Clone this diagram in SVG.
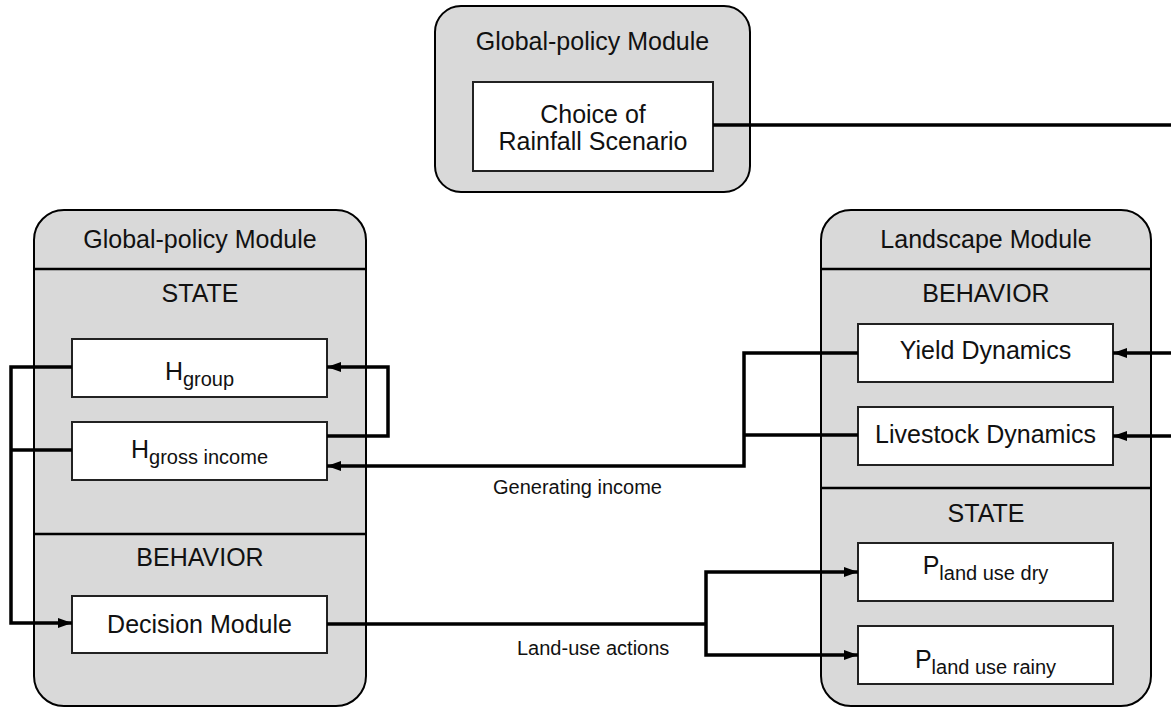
<svg xmlns="http://www.w3.org/2000/svg" width="1171" height="708" viewBox="0 0 1171 708">
<defs>
<style>
.module{fill:#d9d9d9;stroke:#000;stroke-width:2}
.div{stroke:#000;stroke-width:2.5}
.box{fill:#fff;stroke:#222;stroke-width:2}
.t{font-family:"Liberation Sans",Arial,sans-serif;font-size:25px;fill:#111;text-anchor:middle}
.sub{font-size:20px}
.lbl{font-family:"Liberation Sans",Arial,sans-serif;font-size:20px;fill:#111}
.c{fill:none;stroke:#000;stroke-width:3.5}
</style>
<marker id="ah" viewBox="0 0 14 10" refX="14" refY="5" markerWidth="14" markerHeight="10" markerUnits="userSpaceOnUse" orient="auto">
<path d="M0,0 L14,5 L0,10 z" fill="#000"/>
</marker>
</defs>
<rect width="1171" height="708" fill="#fff"/>

<g id="top-module">
<rect class="module" x="435" y="6" width="315" height="186" rx="26" ry="26"/>
<text class="t" x="592.5" y="50">Global-policy Module</text>
</g>
<g id="rainfall">
<rect class="box" x="473" y="82" width="240" height="89"/>
<text class="t" x="593" y="123">Choice of</text>
<text class="t" x="593" y="150">Rainfall Scenario</text>
</g>

<g id="left-module">
<rect class="module" x="34" y="210" width="332" height="496" rx="30" ry="30"/>
<line class="div" x1="34" y1="269" x2="366" y2="269"/>
<line class="div" x1="34" y1="534" x2="366" y2="534"/>
<text class="t" x="200" y="248">Global-policy Module</text>
<text class="t" x="200" y="302">STATE</text>
<text class="t" x="200" y="566">BEHAVIOR</text>
</g>
<g id="h-group">
<rect class="box" x="72" y="339" width="255" height="58"/>
<text class="t" x="199.5" y="380">H<tspan class="sub" dy="6">group</tspan></text>
</g>
<g id="h-gross-income">
<rect class="box" x="72" y="422" width="255" height="58"/>
<text class="t" x="199.5" y="458">H<tspan class="sub" dy="6">gross income</tspan></text>
</g>
<g id="decision-module">
<rect class="box" x="72" y="596" width="255" height="57"/>
<text class="t" x="199.5" y="633">Decision Module</text>
</g>

<g id="landscape-module">
<rect class="module" x="821" y="210" width="330" height="496" rx="30" ry="30"/>
<line class="div" x1="821" y1="269" x2="1151" y2="269"/>
<line class="div" x1="821" y1="488" x2="1151" y2="488"/>
<text class="t" x="986" y="248">Landscape Module</text>
<text class="t" x="986" y="302">BEHAVIOR</text>
<text class="t" x="986" y="522">STATE</text>
</g>
<g id="yield-dynamics">
<rect class="box" x="858" y="324" width="255" height="58"/>
<text class="t" x="985.5" y="359">Yield Dynamics</text>
</g>
<g id="livestock-dynamics">
<rect class="box" x="858" y="407" width="255" height="58"/>
<text class="t" x="985.5" y="443">Livestock Dynamics</text>
</g>
<g id="p-land-use-dry">
<rect class="box" x="858" y="543" width="255" height="58"/>
<text class="t" x="985.5" y="574">P<tspan class="sub" dy="6">land use dry</tspan></text>
</g>
<g id="p-land-use-rainy">
<rect class="box" x="858" y="626" width="255" height="58"/>
<text class="t" x="985.5" y="668">P<tspan class="sub" dy="6">land use rainy</tspan></text>
</g>

<g id="connectors">
<path class="c" d="M713,125 H1171"/>
<path class="c" d="M1171,353 H1113" marker-end="url(#ah)"/>
<path class="c" d="M1171,436 H1113" marker-end="url(#ah)"/>
<path class="c" d="M858,353 H744 V466 H327" marker-end="url(#ah)"/>
<path class="c" d="M858,435 H744"/>
<path class="c" d="M327,436 H388 V367 H327" marker-end="url(#ah)"/>
<path class="c" d="M72,367 H11 V623 H72" marker-end="url(#ah)"/>
<path class="c" d="M72,450 H11"/>
<path class="c" d="M327,624 H706"/>
<path class="c" d="M706,624 V572 H858" marker-end="url(#ah)"/>
<path class="c" d="M706,624 V655 H858" marker-end="url(#ah)"/>
<text class="lbl" x="493" y="494">Generating income</text>
<text class="lbl" x="517" y="655">Land-use actions</text>
</g>
</svg>
